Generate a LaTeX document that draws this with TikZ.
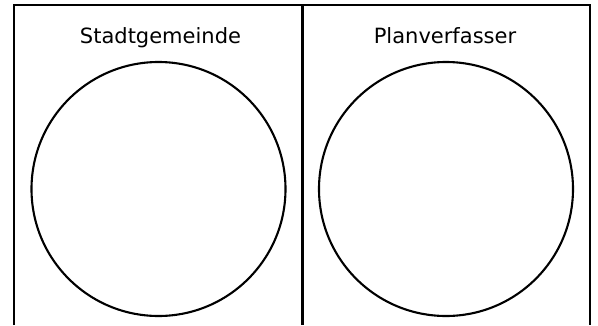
\documentclass[tikz,border=0pt]{standalone}
\usepackage{fontspec}
\setmainfont{DejaVu Sans}
\begin{document}
\begin{tikzpicture}[x=1pt,y=-1pt,
  frame/.style={line width=2.2pt,black},
  ring/.style={circle,draw,line width=2.1pt,minimum size=254pt,inner sep=0pt},
  title/.style={anchor=base,font=\fontsize{21}{24}\selectfont,inner sep=0pt}]
\useasboundingbox[fill=white] (0,0) rectangle (598,325);
\coordinate (tl) at (14,5);
\coordinate (tm) at (302.5,5);
\coordinate (tr) at (590,5);
\coordinate (bl) at (14,325);
\coordinate (bm) at (302.5,325);
\coordinate (br) at (590,325);
\draw[frame] (bl) -- (tl) -- (tr) -- (br);
\draw[frame] (tm) -- (bm);
\node[title] (t1) at (160.5,43) {Stadtgemeinde};
\node[title] (t2) at (445,43) {Planverfasser};
\node[ring] (c1) at (158.5,189) {};
\node[ring] (c2) at (446,189) {};
\end{tikzpicture}
\end{document}
